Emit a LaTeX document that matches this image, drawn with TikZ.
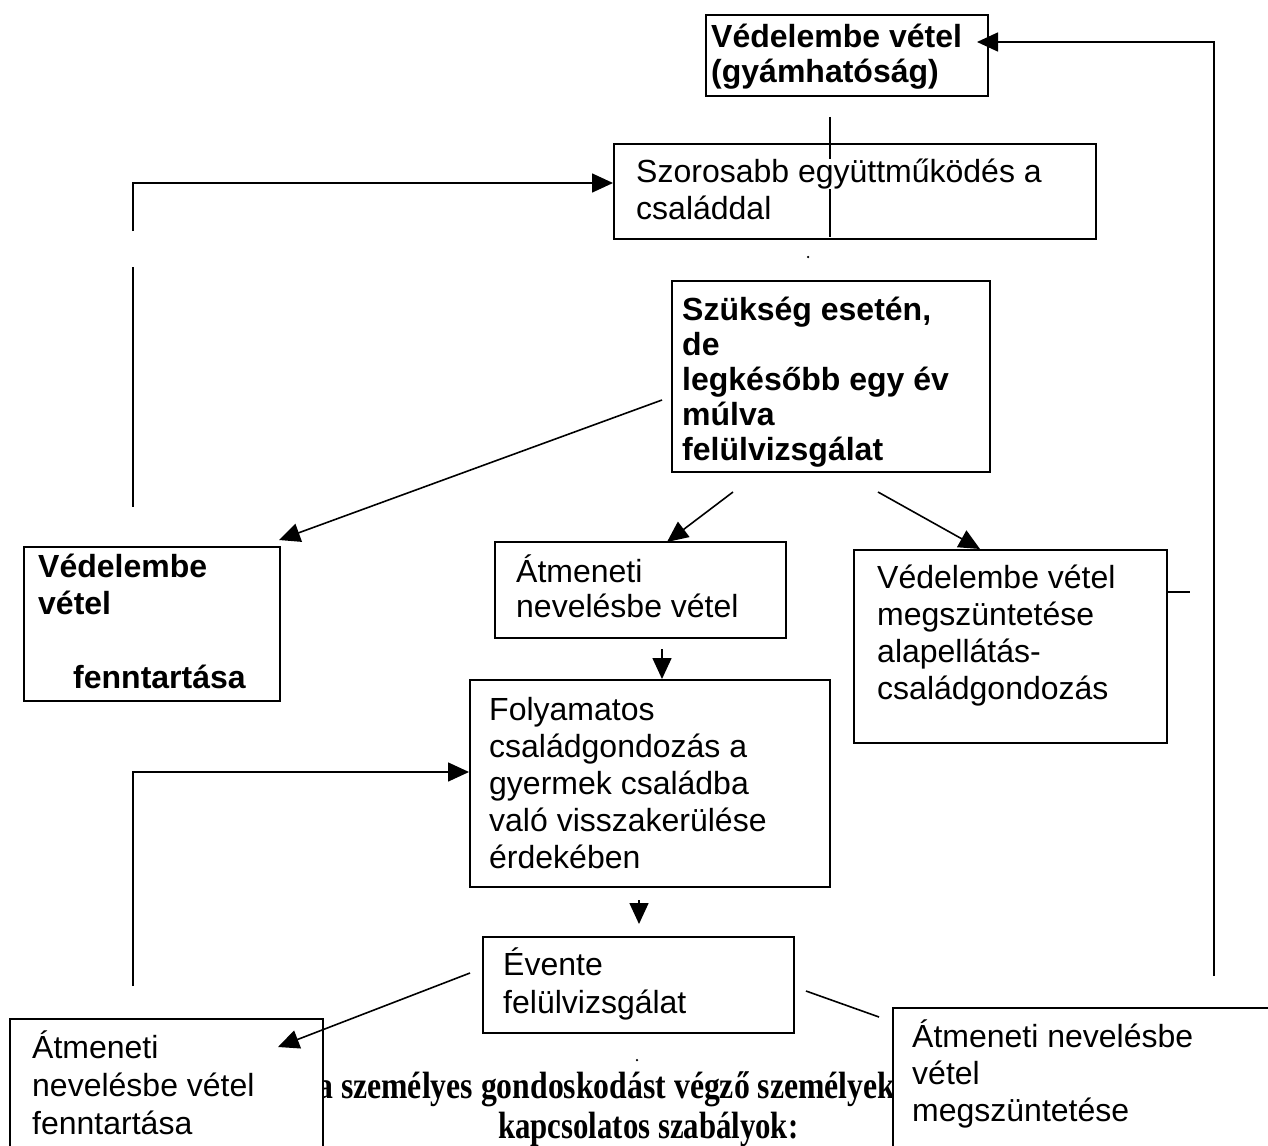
\documentclass[tikz,border=0pt]{standalone}
\usepackage{fontspec}
\setmainfont{Liberation Sans}
\newfontfamily\serifbf{Liberation Serif}
\usetikzlibrary{arrows.meta}
\newcommand{\fstrut}{\rule{0pt}{30pt}}
\tikzset{
  box/.style={draw, line width=2pt, fill=white, rectangle, inner sep=0pt, anchor=north west},
  txt/.style={anchor=north west, inner sep=0pt, align=left, font=\fontsize{32}{37}\selectfont},
  btxt/.style={anchor=north west, inner sep=0pt, align=left, font=\fontsize{32}{35}\selectfont\bfseries},
  conn/.style={line width=1.6pt},
  arr/.style={conn, -{Triangle[length=21pt,width=19pt]}},
  ttl/.style={anchor=base west, inner sep=0pt, font=\fontsize{38}{44}\serifbf\bfseries},
  dot/.style={circle, fill=black, inner sep=0pt, minimum size=2.5pt},
}
\begin{document}
\begin{tikzpicture}[x=1pt,y=-1pt]
\useasboundingbox (0,0) rectangle (1268,1145);
\fill[white] (0,0) rectangle (1268,1145);

% title text partly covered by the boxes
\node[ttl] (title1) at (317,1098) {\scalebox{0.835}[1]{a személyes gondoskodást végző személyek}};
\node[ttl] (title2) at (498,1138) {\scalebox{0.81}[1]{kapcsolatos szabályok:}};

% boxes
\node[box, minimum width=282pt, minimum height=81pt] (vt) at (705,14) {};
\node[box, minimum width=482pt, minimum height=95pt] (szor) at (613,143) {};
\node[box, minimum width=318pt, minimum height=191pt] (szuk) at (671,280) {};
\node[box, minimum width=256pt, minimum height=154pt] (vvf) at (23,546) {};
\node[box, minimum width=291pt, minimum height=96pt] (atm) at (494,541) {};
\node[box, minimum width=313pt, minimum height=193pt] (vmeg) at (853,549) {};
\node[box, minimum width=360pt, minimum height=207pt] (foly) at (469,679) {};
\node[box, minimum width=311pt, minimum height=96pt] (evt) at (482,936) {};
\node[box, minimum width=313pt, minimum height=150pt] (bl) at (9,1018) {};
\node[box, minimum width=420pt, minimum height=160pt] (br) at (892,1007) {};

% texts
\node[btxt] (tvt) at (711,17) {\fstrut Védelembe vétel\\(gyámhatóság)};
\node[txt] (tszor) at (636,152) {\fstrut Szorosabb együttműködés a\\családdal};
\node[btxt] (tszuk) at (682,290) {\fstrut Szükség esetén,\\de\\legkésőbb egy év\\múlva\\felülvizsgálat};
\node[btxt, font=\fontsize{32}{37}\selectfont\bfseries] (tvvf) at (38,547) {\fstrut Védelembe\\vétel\\\mbox{}\\\hspace*{35pt}fenntartása};
\node[txt, font=\fontsize{32}{35}\selectfont] (tatm) at (516,552) {\fstrut Átmeneti\\nevelésbe vétel};
\node[txt] (tvmeg) at (877,558) {\fstrut Védelembe vétel\\megszüntetése\\alapellátás-\\családgondozás};
\node[txt] (tfoly) at (489,690) {\fstrut Folyamatos\\családgondozás a\\gyermek családba\\való visszakerülése\\érdekében};
\node[txt, font=\fontsize{32}{38}\selectfont] (tevt) at (503,945) {\fstrut Évente\\felülvizsgálat};
\node[txt, font=\fontsize{32}{38}\selectfont] (tbl) at (32,1028) {\fstrut Átmeneti\\nevelésbe vétel\\fenntartása};
\node[txt] (tbr) at (912,1017) {\fstrut Átmeneti nevelésbe\\vétel\\megszüntetése};

% coordinates for free ends
\coordinate (r1) at (1214,976);
\coordinate (r2) at (977,42);
\coordinate (s1) at (830,117);
\coordinate (s2) at (830,159);
\coordinate (s3) at (830,189);
\coordinate (s4) at (830,237);
\coordinate (l1) at (133,231);
\coordinate (l2) at (613,183);
\coordinate (l3) at (133,267);
\coordinate (l4) at (133,507);
\coordinate (a4s) at (662,400);
\coordinate (a4e) at (279,540);
\coordinate (a5s) at (733,492);
\coordinate (a5e) at (667,542);
\coordinate (a6s) at (878,492);
\coordinate (a6e) at (980,549);
\coordinate (a7s) at (662,649);
\coordinate (a7e) at (662,679);
\coordinate (m1) at (133,986);
\coordinate (m2) at (469,772);
\coordinate (a9s) at (639,900);
\coordinate (a9e) at (639,924);
\coordinate (a10s) at (470,973);
\coordinate (a10e) at (278,1047);
\coordinate (a11s) at (806,991);
\coordinate (a11e) at (879,1017);
\coordinate (st1) at (1190,592);

% connectors
\draw[arr] (r1) |- (r2);
\draw[conn] (s1) -- (s2);
\draw[conn] (s3) -- (s4);
\draw[arr] (l1) |- (l2);
\draw[conn] (l3) -- (l4);
\draw[arr] (a4s) -- (a4e);
\draw[arr] (a5s) -- (a5e);
\draw[arr] (a6s) -- (a6e);
\draw[arr] (a7s) -- (a7e);
\draw[arr] (m1) |- (m2);
\draw[arr] (a9s) -- (a9e);
\draw[arr] (a10s) -- (a10e);
\draw[conn] (a11s) -- (a11e);
\draw[conn] (vmeg.east |- st1) -- (st1);

% stray dots
\node[dot] (d1) at (808,257) {};
\node[dot] (d2) at (637,1060) {};
\end{tikzpicture}
\end{document}
